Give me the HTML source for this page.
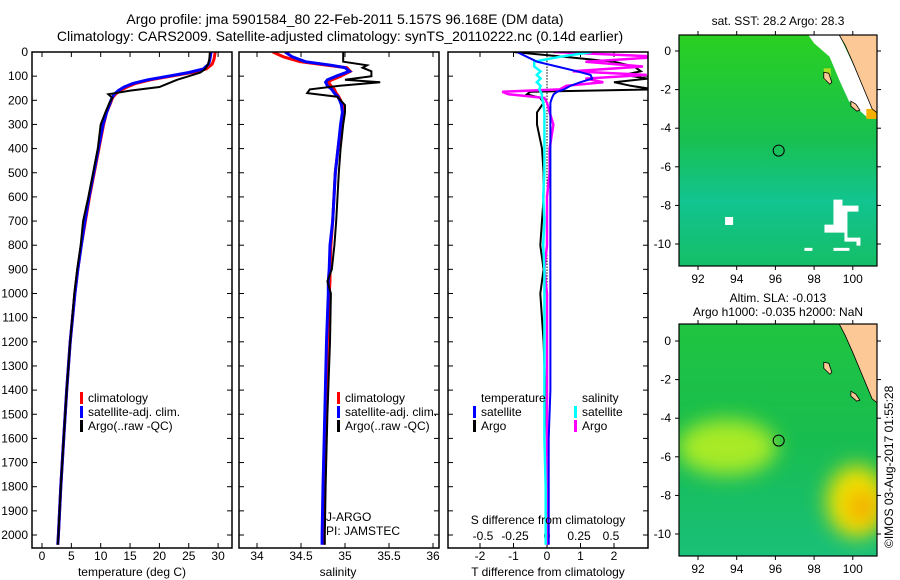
<!DOCTYPE html>
<html><head><meta charset="utf-8"><style>
body{margin:0;background:#fff;}
svg{display:block;font-family:"Liberation Sans",sans-serif;}
text{fill:#000;}
</style></head><body>
<svg id="c" width="900" height="580" xmlns="http://www.w3.org/2000/svg">
<text x="345" y="24" font-size="14" text-anchor="middle">Argo profile: jma 5901584_80 22-Feb-2011 5.157S 96.168E (DM data)</text>
<text x="340" y="41" font-size="14" text-anchor="middle">Climatology: CARS2009. Satellite-adjusted climatology: synTS_20110222.nc (0.14d earlier)</text>
<g id="g"></g>
</svg>
<script>
// depth axis
const depthTicks=[0,100,200,300,400,500,600,700,800,900,1000,1100,1200,1300,1400,1500,1600,1700,1800,1900,2000];
// temperature panel data
const tDepth=[0,30,50,70,85,100,115,130,145,160,175,190,210,250,300,400,500,600,700,800,900,1000,1200,1400,1600,1800,2000,2040];
const tClim=[29.5,29.3,29.0,28.0,25.5,22.0,18.5,16.0,14.5,13.3,12.5,12.0,11.7,11.0,10.5,9.7,8.9,8.1,7.4,6.7,6.1,5.6,4.8,4.2,3.7,3.2,2.8,2.7];
const tSat=[28.8,28.6,28.4,27.5,25.0,21.5,18.0,15.5,14.0,13.0,12.3,11.9,11.6,11.0,10.4,9.6,8.8,8.0,7.3,6.7,6.1,5.6,4.8,4.2,3.7,3.2,2.8,2.7];
const tArgo=[28.6,28.5,28.3,27.8,27.0,25.0,23.0,21.5,20.0,15.0,11.3,12.0,11.5,10.8,10.0,9.5,8.7,7.9,7.0,6.6,6.0,5.5,4.8,4.2,3.7,3.2,2.8,2.7];
const tTicks=[0,5,10,15,20,25,30];
// salinity panel data
const sDepth=[0,20,40,55,65,80,100,115,125,140,155,170,185,200,220,250,300,400,500,700,800,900,950,1000,1200,1500,1800,2000,2040];
const sClim=[34.18,34.3,34.49,34.8,35.02,35.06,34.95,34.85,34.81,34.84,34.88,34.9,34.93,34.95,34.97,34.98,34.96,34.92,34.89,34.86,34.84,34.83,34.83,34.82,34.8,34.79,34.77,34.76,34.76];
const sSat=[34.32,34.4,34.55,34.85,35.0,35.05,34.9,34.8,34.78,34.8,34.85,34.88,34.92,34.94,34.96,34.97,34.95,34.92,34.89,34.86,34.83,34.82,34.81,34.81,34.79,34.77,34.75,34.74,34.74];
const sArgo=[34.98,34.98,34.98,35.25,35.2,35.3,35.3,35.0,35.4,34.94,34.6,34.57,34.91,34.95,35.0,35.0,34.98,34.95,34.93,34.9,34.88,34.85,34.8,34.84,34.83,34.8,34.78,34.77,34.77];
const sTicks=[34,34.5,35,35.5,36];
// difference panel data
const dDepth=[0,20,40,60,80,95,110,125,140,155,165,175,190,210,250,300,400,500,600,700,800,900,1000,1200,1400,1600,1800,2000,2040];
const dTSat=[-0.9,-0.6,-0.3,0.3,0.9,1.3,1.35,1.0,0.7,0.5,0.3,0.2,0.15,0.1,0.1,0.1,0.1,0.1,0.1,0.1,0.1,0.1,0.1,0.1,0.1,0.05,0.05,0.05,0.05];
const dTArgo=[-1.0,0.5,2.0,2.6,2.8,2.3,3.0,2.0,2.5,3.2,-0.5,-0.6,-0.2,-0.1,-0.3,-0.3,-0.15,-0.1,-0.1,-0.15,-0.2,-0.1,-0.2,-0.1,-0.05,0,0,0,0];
const dSSat=[0.35,0.1,-0.1,-0.1,-0.05,-0.08,-0.05,-0.08,-0.05,-0.06,-0.05,-0.04,-0.04,-0.03,-0.02,-0.02,-0.02,-0.02,-0.03,-0.02,-0.03,-0.02,-0.02,-0.02,-0.02,-0.02,-0.01,-0.01,-0.01];
const dSArgo=[0.05,0.9,0.3,0.75,0.2,0.78,0.3,0.44,0.15,0.1,-0.35,-0.3,-0.02,0.0,0.02,0.05,0.02,0.02,0.0,0.0,0.0,-0.02,0.0,0.0,0.0,0.0,0.0,0.0,0.0];
const dTTicks=[-2,-1,0,1,2];
const dSTicks=[-0.5,-0.25,0,0.25,0.5];
const dSTickLabels=["-0.5","-0.25","0","0.25","0.5"];

const NS="http://www.w3.org/2000/svg";
const G=document.getElementById('g');
function el(tag,attrs,parent){const e=document.createElementNS(NS,tag);for(const k in attrs)e.setAttribute(k,attrs[k]);(parent||G).appendChild(e);return e;}
const Y=d=>52+d*0.2415;
const PT=52,PB=548;

function frame(x0,x1,name){
  const f=el('rect',{x:x0,y:PT,width:x1-x0,height:PB-PT,fill:'none',stroke:'#000','stroke-width':1.5});
  
  
}
function line(xs,ds,X,color,w,name,clip){
  const p=el('polyline',{points:xs.map((v,i)=>X(v).toFixed(1)+','+Y(ds[i]).toFixed(1)).join(' '),fill:'none',stroke:color,'stroke-width':w,'clip-path':clip||''});
  
  
}
function txt(x,y,s,name,anchor,size,parent){
  const t=el('text',{x:x,y:y,'font-size':size||12,'text-anchor':anchor||'start'},parent);t.textContent=s;
  
  
  return t;
}
function xticks(vals,labels,X,y,name){
  vals.forEach((v,i)=>{
    el('line',{x1:X(v),x2:X(v),y1:PT,y2:PT+5,stroke:'#000'});
    el('line',{x1:X(v),x2:X(v),y1:PB,y2:PB-5,stroke:'#000'});
    txt(X(v),y,labels[i],name,'middle');
  });
}
function yticks(x0,x1,labels){
  depthTicks.forEach(d=>{
    el('line',{x1:x0,x2:x0+5,y1:Y(d),y2:Y(d),stroke:'#000'});
    el('line',{x1:x1,x2:x1-5,y1:Y(d),y2:Y(d),stroke:'#000'});
    if(labels)txt(28,Y(d)+4,String(d),'depth-tick-label','end');
  });
}
function legend(x,y,color,label,name){
  const r=el('rect',{x:x,y:y-10,width:3,height:12,fill:color});
  
  
  txt(x+8,y,label,name);
}
const defs=el('defs',{});
[['c1',32,232],['c2',239,439],['c3',448,648]].forEach(c=>{const cp=el('clipPath',{id:c[0]},defs);el('rect',{x:c[1],y:PT,width:c[2]-c[1],height:PB-PT},cp);});

// Panel 1 temperature
const XT=v=>42+v*5.87;
yticks(32,232,true);
xticks(tTicks,tTicks.map(String),XT,560,'temperature-tick-label');
line(tClim,tDepth,XT,'#f00',3,'temperature-climatology-line','url(#c1)');
line(tSat,tDepth,XT,'#00f',3,'temperature-satellite-line','url(#c1)');
line(tArgo,tDepth,XT,'#000',2,'temperature-argo-line','url(#c1)');
frame(32,232,'temperature-panel-frame');
txt(132,576,'temperature (deg C)','temperature-axis-title','middle');
legend(80,402,'#f00','climatology','legend-climatology');
legend(80,416,'#00f','satellite-adj. clim.','legend-satellite-adj');
legend(80,430,'#000','Argo(..raw -QC)','legend-argo');

// Panel 2 salinity
const XS=v=>257+(v-34)*88;
yticks(239,439,false);
xticks(sTicks,sTicks.map(String),XS,560,'salinity-tick-label');
line(sClim,sDepth,XS,'#f00',3,'salinity-climatology-line','url(#c2)');
line(sSat,sDepth,XS,'#00f',3,'salinity-satellite-line','url(#c2)');
line(sArgo,sDepth,XS,'#000',2,'salinity-argo-line','url(#c2)');
frame(239,439,'salinity-panel-frame');
txt(338,576,'salinity','salinity-axis-title','middle');
legend(337,402,'#f00','climatology','legend-climatology');
legend(337,416,'#00f','satellite-adj. clim.','legend-satellite-adj');
legend(337,430,'#000','Argo(..raw -QC)','legend-argo');
txt(326,521,'J-ARGO','float-program-label');
txt(326,535,'PI: JAMSTEC','float-pi-label');

// Panel 3 differences
const XD=v=>547+v*33.5;
const XDS=v=>547+v*128;
yticks(448,648,false);
xticks(dTTicks,dTTicks.map(String),XD,560,'t-diff-tick-label');
dSTicks.forEach((v,i)=>txt(XDS(v),540,dSTickLabels[i],'s-diff-tick-label','middle'));
for(let d=0;d<2040;d+=12){el('line',{x1:547,x2:547,y1:Y(d),y2:Y(d)+1.5,stroke:'#000'});}
line(dTArgo,dDepth,XD,'#000',2,'t-diff-argo-line','url(#c3)');
line(dSArgo,dDepth,XDS,'#f0f',2.5,'s-diff-argo-line','url(#c3)');
line(dSSat,dDepth,XDS,'#0ff',2.5,'s-diff-satellite-line','url(#c3)');
line(dTSat,dDepth,XD,'#00f',2,'t-diff-satellite-line','url(#c3)');
frame(448,648,'difference-panel-frame');
txt(548,524,'S difference from climatology','s-diff-axis-title','middle');
txt(548,576,'T difference from climatology','t-diff-axis-title','middle');
txt(481,402,'temperature','legend-temperature-heading');
legend(473,416,'#00f','satellite','legend-t-satellite');
legend(473,430,'#000','Argo','legend-t-argo');
txt(582,402,'salinity','legend-salinity-heading');
legend(574,416,'#0ff','satellite','legend-s-satellite');
legend(574,430,'#f0f','Argo','legend-s-argo');

// Maps
const lonTicks=[92,94,96,98,100], latTicks=[0,-2,-4,-6,-8,-10];
const flt=el('filter',{id:'blur',x:'-50%',y:'-50%',width:'200%',height:'200%'},defs);el('feGaussianBlur',{stdDeviation:10},flt);
const mc1=el('clipPath',{id:'m1'},defs);el('rect',{x:679,y:35,width:198,height:231},mc1);
const mc2=el('clipPath',{id:'m2'},defs);el('rect',{x:679,y:324,width:198,height:232},mc2);
function map(y0,y1,lat0y,name,sla,clip){
  const x0=679,x1=877, LX=v=>698+(v-92)*19.35, LY=v=>lat0y+(-v)*19.3;
  const g=el('g',{});
  
  
  const inner=el('g',{'clip-path':'url(#'+clip+')'},g);
  const gid=name+'-grad';
  const lg=el('linearGradient',{id:gid,x1:0,y1:0,x2:0,y2:1},defs);
  if(!sla){
    el('stop',{offset:'0','stop-color':'#2ad020'},lg);el('stop',{offset:'0.45','stop-color':'#18c050'},lg);el('stop',{offset:'0.72','stop-color':'#12c490'},lg);el('stop',{offset:'1','stop-color':'#14be66'},lg);
  }else{
    el('stop',{offset:'0','stop-color':'#20c440'},lg);el('stop',{offset:'0.5','stop-color':'#18bd50'},lg);el('stop',{offset:'1','stop-color':'#19c078'},lg);
  }
  el('rect',{x:x0,y:y0,width:x1-x0,height:y1-y0,fill:'url(#'+gid+')'},inner);
  if(!sla){
    el('rect',{x:LX(93.4),y:LY(-8.6),width:8,height:8,fill:'#fff'},inner);
    el('path',{d:`M${LX(99)} ${LY(-7.7)}h9v6h16v6h-11v26h13v8h-4v-4h-12v-9h-20v-8h9z`,fill:'#fff'},inner);
    el('rect',{x:LX(97.5),y:LY(-10.2),width:8,height:3,fill:'#fff'},inner);
    el('rect',{x:LX(99),y:LY(-10.2),width:16,height:3,fill:'#fff'},inner);
    el('path',{d:`M${LX(97.7)} ${y0}L${LX(99.3)} ${y0}L${LX(101.2)} ${LY(-3.2)}L${LX(100.7)} ${LY(-3.4)}L${LX(99.8)} ${LY(-2.6)}L${LX(99.3)} ${LY(-1.5)}L${LX(98.8)} ${LY(-0.3)}L${LX(98)} ${LY(0.4)}z`,fill:'#fff'},inner);
    el('rect',{x:LX(98.5),y:LY(-0.9),width:7,height:12,fill:'#b0e020'},inner);
    el('rect',{x:LX(100.7),y:LY(-3.0),width:12,height:10,fill:'#f8b000'},inner);
  }else{
    el('ellipse',{cx:LX(93.5),cy:LY(-5.5),rx:50,ry:28,fill:'#b8f020',opacity:0.9,filter:'url(#blur)'},inner);
    el('ellipse',{cx:LX(100.2),cy:LY(-8.3),rx:30,ry:36,fill:'#f0e000',filter:'url(#blur)'},inner);
    el('ellipse',{cx:LX(100.5),cy:LY(-8.6),rx:13,ry:15,fill:'#f5a500',filter:'url(#blur)'},inner);
  }
  el('path',{d:`M${LX(99.3)} ${y0}L${x1} ${y0}L${x1} ${LY(-3.2)}L${LX(101)} ${LY(-3)}L${LX(100.5)} ${LY(-1.8)}L${LX(100)} ${LY(-0.6)}L${LX(99.6)} ${LY(0.3)}z`,fill:'#fbc896',stroke:'#000','stroke-width':0.8},inner);
  el('path',{d:`M${LX(98.5)} ${LY(-1.1)}l5 1l3 9l-2 2l-6 -6z`,fill:'#fbc896',stroke:'#000','stroke-width':0.8},inner);
  el('path',{d:`M${LX(99.9)} ${LY(-2.6)}l5 3l4 6l-3 1l-6 -5z`,fill:'#fbc896',stroke:'#000','stroke-width':0.8},inner);
  const c=el('circle',{cx:LX(96.17),cy:LY(-5.16),r:5.5,fill:'none',stroke:'#000','stroke-width':1},g);
  
  
  el('rect',{x:x0,y:y0,width:x1-x0,height:y1-y0,fill:'none',stroke:'#000','stroke-width':1.2},g);
  lonTicks.forEach(v=>{el('line',{x1:LX(v),x2:LX(v),y1:y0,y2:y0-4,stroke:'#000'},g);el('line',{x1:LX(v),x2:LX(v),y1:y1,y2:y1+4,stroke:'#000'},g);txt(LX(v),y1+17,String(v),'longitude-tick-label','middle',12,g);});
  latTicks.forEach(v=>{el('line',{x1:x0,x2:x0-4,y1:LY(v),y2:LY(v),stroke:'#000'},g);el('line',{x1:x1,x2:x1+4,y1:LY(v),y2:LY(v),stroke:'#000'},g);txt(x0-8,LY(v)+4,String(v),'latitude-tick-label','end',12,g);});
}
map(35,266,51,'sst-map',false,'m1');
map(324,556,341,'sla-map',true,'m2');
txt(778,25,'sat. SST: 28.2 Argo: 28.3','sst-map-title','middle');
txt(778,302,'Altim. SLA: -0.013','sla-map-title','middle');
txt(778,316,'Argo h1000: -0.035 h2000: NaN','sla-map-subtitle','middle');
const ts=txt(893,548,'©IMOS 03-Aug-2017 01:55:28','timestamp-label','start');
ts.setAttribute('transform','rotate(-90 893 548)');
</script>
</body></html>
